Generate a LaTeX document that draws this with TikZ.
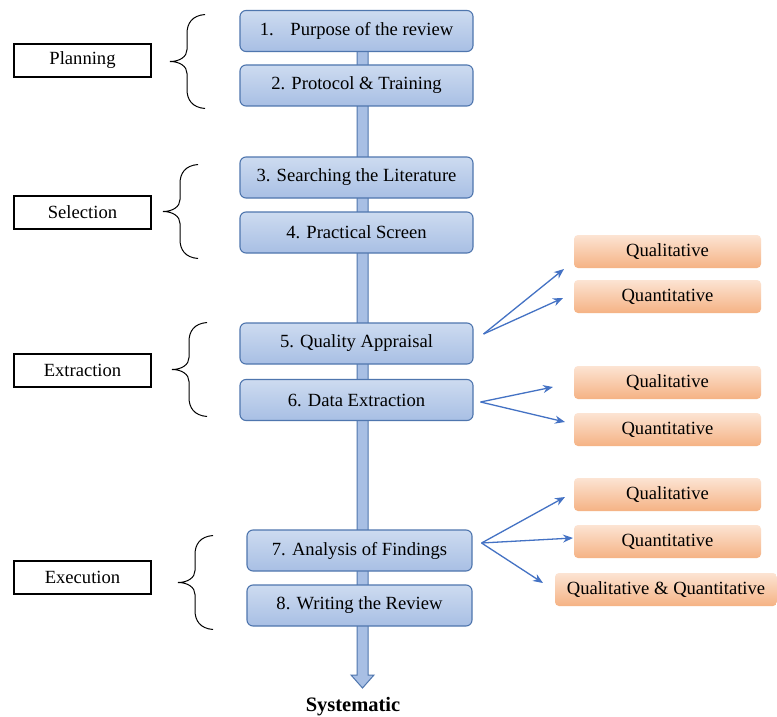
\documentclass[tikz,border=0pt]{standalone}
\usepackage{fontspec}
\setmainfont{Liberation Serif}
\usetikzlibrary{arrows.meta,calc}
\definecolor{stepedge}{RGB}{79,118,174}
\definecolor{steptop}{RGB}{205,219,240}
\definecolor{stepbot}{RGB}{168,191,228}
\definecolor{orgtop}{RGB}{252,228,211}
\definecolor{orgbot}{RGB}{245,178,132}
\definecolor{linkblue}{RGB}{68,114,196}
\tikzset{
  stepbox/.style={draw=stepedge, line width=1.1pt, rounded corners=6pt,
    top color=steptop, bottom color=stepbot, minimum height=41pt,
    inner sep=0pt, font=\fontsize{18.6}{21}\selectfont},
  phasebox/.style={draw=black, line width=1.1pt, fill=white, minimum width=137pt,
    minimum height=33pt, inner sep=0pt, font=\fontsize{18.6}{21}\selectfont},
  kindbox/.style={rounded corners=4pt, top color=orgtop, bottom color=orgbot,
    minimum height=33pt, inner sep=0pt, font=\fontsize{18.6}{21}\selectfont},
  link/.style={draw=linkblue, line width=1.3pt, -{Stealth[length=10pt,width=8pt]}},
  curly/.style={draw=black, line width=1pt},
}
\newcommand\phasebrace[1]{%
  \draw[curly, shift={#1}] (35,-47) .. controls (22,-46) and (17,-38) .. (17,-28)
    -- (17,-12) .. controls (17,-5) and (10,0) .. (0,0)
    .. controls (10,0) and (17,5) .. (17,12) -- (17,28)
    .. controls (17,38) and (22,46) .. (35,47);}
\begin{document}
\begin{tikzpicture}[x=1pt,y=-1pt]
\useasboundingbox[fill=white] (0,0) rectangle (777,717);

% central flow arrow behind the steps
\filldraw[fill=stepbot, draw=stepedge, line width=1pt]
  (357,40) -- (368,40) -- (368,675) -- (374,675) -- (362.5,688)
  -- (351,675) -- (357,675) -- cycle;
\node[font=\fontsize{20.5}{23}\selectfont\bfseries] (sys) at (353,707) {Systematic};

% steps
\node[stepbox, minimum width=233pt] (b1) at (356.5,31) {1.\hspace{0.9em}Purpose of the review};
\node[stepbox, minimum width=233pt] (b2) at (356.5,85.5) {2. Protocol \& Training};
\node[stepbox, minimum width=233pt] (b3) at (356.5,177.5) {3. Searching the Literature};
\node[stepbox, minimum width=233pt] (b4) at (356.5,232.5) {4. Practical Screen};
\node[stepbox, minimum width=233pt] (b5) at (356.5,343.5) {5. Quality Appraisal};
\node[stepbox, minimum width=233pt] (b6) at (356.5,400) {6. Data Extraction};
\node[stepbox, minimum width=225pt] (b7) at (359.5,550.5) {7. Analysis of Findings};
\node[stepbox, minimum width=225pt] (b8) at (359.5,605.5) {8. Writing the Review};

% phases
\node[phasebox] (p1) at (82.5,60.5) {Planning};
\node[phasebox] (p2) at (82.5,212.5) {Selection};
\node[phasebox] (p3) at (82.5,370.5) {Extraction};
\node[phasebox] (p4) at (82.5,577.5) {Execution};
\phasebrace{(170,61.5)}
\phasebrace{(163,211.5)}
\phasebrace{(172,369.5)}
\phasebrace{(178,582.5)}

% kinds of evidence
\node[kindbox, minimum width=187pt] (q1) at (667.5,251.5) {Qualitative};
\node[kindbox, minimum width=187pt] (q2) at (667.5,296.5) {Quantitative};
\node[kindbox, minimum width=187pt] (q3) at (667.5,382.5) {Qualitative};
\node[kindbox, minimum width=187pt] (q4) at (667.5,429.5) {Quantitative};
\node[kindbox, minimum width=187pt] (q5) at (667.5,494.5) {Qualitative};
\node[kindbox, minimum width=187pt] (q6) at (667.5,541.5) {Quantitative};
\node[kindbox, minimum width=222pt] (q7) at (666,589.5) {Qualitative \& Quantitative};

% arrow tips
\coordinate (t1) at (564,269);
\coordinate (t2) at (563,298);
\coordinate (t3) at (553,387);
\coordinate (t4) at (565,422);
\coordinate (t5) at (565,497);
\coordinate (t6) at (573,538);
\coordinate (t7) at (543,583);

\draw[link] ($(b5.east)+(10,-9.5)$) -- (t1);
\draw[link] ($(b5.east)+(10,-9.5)$) -- (t2);
\draw[link] ($(b6.east)+(7,2)$) -- (t3);
\draw[link] ($(b6.east)+(7,2)$) -- (t4);
\draw[link] ($(b7.east)+(9,-7.5)$) -- (t5);
\draw[link] ($(b7.east)+(9,-7.5)$) -- (t6);
\draw[link] ($(b7.east)+(9,-7.5)$) -- (t7);
\end{tikzpicture}
\end{document}
